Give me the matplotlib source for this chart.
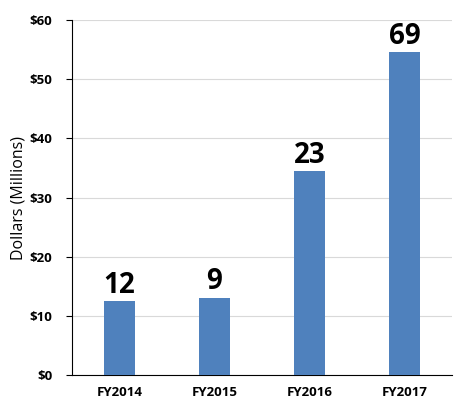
import matplotlib
matplotlib.use("Agg")
import matplotlib.pyplot as plt

years = ["FY2014", "FY2015", "FY2016", "FY2017"]
dollars = [12.5, 13.1, 34.5, 54.6]
counts = ["12", "9", "23", "69"]
yticks = [0, 10, 20, 30, 40, 50, 60]

plt.rcParams['font.family'] = ['Open Sans', 'DejaVu Sans']

fig = plt.figure(figsize=(4.64, 4.09), dpi=100)
ax = fig.add_axes([0.155, 0.083, 0.819, 0.868])

x = range(len(years))
bars = ax.bar(x, dollars, width=0.32, color='#4f81bd', zorder=3)
for b, c in zip(bars, counts):
    ax.text(b.get_x() + b.get_width() / 2, b.get_height() + 0.2, c,
            ha='center', va='bottom', fontsize=20, fontweight='bold')

ax.set_ylim(0, 60)
ax.set_xlim(-0.5, 3.5)
ax.set_yticks(yticks)
ax.set_yticklabels(["$%d" % v for v in yticks], fontsize=9.5, fontweight='bold')
ax.set_xticks(list(x))
ax.set_xticklabels(years, fontsize=9.5, fontweight='bold')
ax.tick_params(axis='x', length=0, pad=8)
ax.tick_params(axis='y', length=4, direction='out', pad=10)
ax.set_ylabel("Dollars (Millions)", fontsize=11.5, labelpad=2)
ax.yaxis.grid(True, color='#d9d9d9', linewidth=0.8, zorder=0)
ax.spines['top'].set_visible(False)
ax.spines['right'].set_visible(False)

fig.savefig("out.png", dpi=100)
